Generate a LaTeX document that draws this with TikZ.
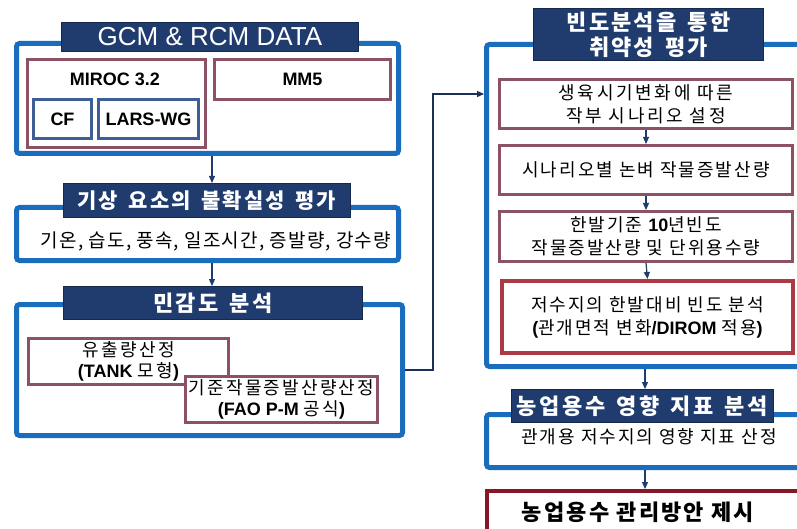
\documentclass[tikz,border=0pt]{standalone}
\usepackage{fontspec}
\setmainfont{Noto Sans CJK KR}
\newfontfamily\lat{Liberation Sans}
\usetikzlibrary{arrows.meta}
\definecolor{frameblue}{RGB}{26,108,188}
\definecolor{navy}{RGB}{32,60,110}
\definecolor{mauve}{RGB}{140,82,100}
\definecolor{slateb}{RGB}{62,95,150}
\definecolor{redb}{RGB}{172,58,68}
\definecolor{darkred}{RGB}{135,22,40}
\newcommand{\LB}[1]{{\lat\bfseries #1}}
\newcommand{\tsp}{\hspace{0.5em}}
\tikzset{
  frame/.style={draw=frameblue, line width=5pt, rounded corners=3pt, fill=white, anchor=north west, inner sep=0pt},
  titlebar/.style={draw=navy!70!black, line width=0.8pt, fill=navy, text=white, anchor=north west, inner sep=0pt, align=center},
  mbox/.style={draw=mauve, line width=3pt, fill=white, anchor=north west, inner sep=0pt, align=center},
  sbox/.style={draw=slateb, line width=3pt, fill=white, anchor=north west, inner sep=0pt, align=center},
  rbox/.style={draw=mauve, line width=3pt, fill=white, anchor=north west, inner sep=0pt, align=center},
  dbox/.style={draw=redb, line width=4pt, fill=white, anchor=north west, inner sep=0pt, align=center},
  fbox/.style={draw=darkred, line width=4pt, fill=white, anchor=north west, inner sep=0pt},
  arr/.style={draw=navy, line width=1.2pt, -{Triangle[length=7pt,width=6pt]}},
  conn/.style={draw=navy!80!black, line width=1.3pt, -{Triangle[length=7pt,width=6pt]}},
  ttl/.style={font=\fontsize{22}{25}\selectfont\bfseries\addfontfeatures{LetterSpace=10}},
  bodyt/.style={font=\fontsize{18}{23}\selectfont\addfontfeatures{LetterSpace=11}, align=center},
  latb/.style={font=\fontsize{18}{22}\selectfont\lat\bfseries},
}
\begin{document}
\begin{tikzpicture}[x=1pt,y=-1pt]
\useasboundingbox (0,0) rectangle (797,529);
\clip (0,0) rectangle (797,529);
\fill[white] (0,0) rectangle (797,529);
\coordinate (ax) at (212,0);
\coordinate (bx) at (645,0);
% ---------- left column ----------
\node[frame, minimum width=382, minimum height=110] (F1) at (14,41) {};
\node[titlebar, minimum width=297, minimum height=29, font=\fontsize{26}{27}\selectfont\lat] (T1) at (61,22) {GCM \& RCM DATA};
\node[mbox, minimum width=178, minimum height=88] (miroc) at (26,58) {};
\node[latb] (mirocT) at (115,79) {MIROC 3.2};
\node[mbox, minimum width=176, minimum height=40, latb] (mm5) at (213,58) {MM5};
\node[sbox, minimum width=58, minimum height=39, latb] (cf) at (32,98) {CF};
\node[sbox, minimum width=100, minimum height=39, latb] (lars) at (97,98) {LARS-WG};

\node[frame, minimum width=382, minimum height=53] (F2) at (14,205) {};
\node[titlebar, minimum width=287, minimum height=34, font=\fontsize{21}{24}\selectfont\bfseries\addfontfeatures{LetterSpace=10}] (T2) at (63,183) {기상\tsp 요소의\tsp 불확실성\tsp 평가};
\node[bodyt, font=\fontsize{19}{23}\selectfont\addfontfeatures{LetterSpace=6}] (F2t) at (216,241) {기온, 습도, 풍속, 일조시간, 증발량, 강수량};
\draw[arr] (F1.south -| ax) -- (T2.north -| ax);

\node[frame, minimum width=386, minimum height=131] (F3) at (14,302) {};
\node[titlebar, minimum width=299, minimum height=33, ttl] (T3) at (63,286) {민감도\tsp 분석};
\node[mbox, minimum width=200, minimum height=46, bodyt, font=\fontsize{18}{21}\selectfont\addfontfeatures{LetterSpace=14}] (tank) at (27,337) {유출량산정\\\LB{(TANK }모형\LB{)}};
\node[mbox, minimum width=192, minimum height=46, bodyt, font=\fontsize{18}{21}\selectfont\addfontfeatures{LetterSpace=12}] (fao) at (184,375) {기준작물증발산량산정\\\LB{(FAO P-M }공식\LB{)}};
\draw[arr] (F2.south -| ax) -- (T3.north -| ax);

% ---------- right column ----------
\node[frame, minimum width=340, minimum height=322] (RF) at (484,42) {};
\node[titlebar, minimum width=230, minimum height=52, ttl] (RT) at (533,8) {빈도분석을\tsp 통한\\취약성\tsp 평가};
\node[rbox, minimum width=293, minimum height=49, bodyt, font=\fontsize{18}{23}\selectfont\addfontfeatures{LetterSpace=15}] (ba) at (498,78) {생육시기변화에 따른\\작부 시나리오 설정};
\node[rbox, minimum width=293, minimum height=49, bodyt] (bb) at (498,144) {시나리오별 논벼 작물증발산량};
\node[rbox, minimum width=293, minimum height=50, bodyt] (bc) at (498,210) {한발기준 \LB{10}년빈도\\작물증발산량 및 단위용수량};
\node[dbox, minimum width=291, minimum height=72, bodyt] (bd) at (500,279) {저수지의 한발대비 빈도 분석\\\LB{(}관개면적 변화\LB{/DIROM }적용\LB{)}};
\draw[arr] (ba.south) -- (bb.north);
\draw[arr] (bb.south) -- (bc.north);
\draw[arr] (bc.south) -- (bd.north);

\coordinate (k) at (433,94);
\draw[conn] (F3.east) -| (k) -- (k -| RF.west);

\node[frame, minimum width=340, minimum height=53] (F5) at (484,412) {};
\node[titlebar, minimum width=262, minimum height=33, font=\fontsize{22}{25}\selectfont\bfseries\addfontfeatures{LetterSpace=12}] (T5) at (511,389) {농업용수\tsp 영향\tsp 지표\tsp 분석};
\node[bodyt] (F5t) at (649,437) {관개용 저수지의 영향 지표 산정};
\draw[arr] (RF.south -| bx) -- (T5.north -| bx);

\node[fbox, minimum width=340, minimum height=60] (B6) at (485,489) {};
\node[font=\fontsize{22}{26}\selectfont\bfseries\addfontfeatures{LetterSpace=10}] (B6t) at (638,512) {농업용수 관리방안 제시};
\draw[arr] (F5.south -| bx) -- (B6.north -| bx);
\end{tikzpicture}
\end{document}
